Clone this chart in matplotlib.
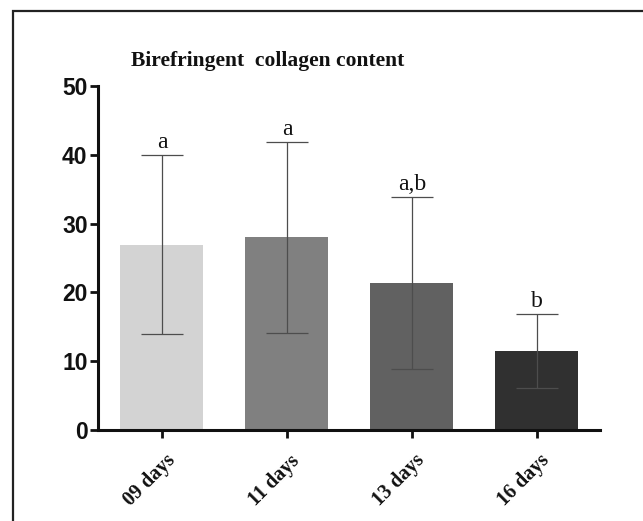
#!/usr/bin/env python3

# plotting
import matplotlib
matplotlib.use("Agg")
import matplotlib.pyplot as plt
import matplotlib.patches as patches

## DATA
groups = ["09 days", "11 days", "13 days", "16 days"]
means = [26.9, 28.0, 21.3, 11.5]
sd = [13.0, 13.9, 12.5, 5.4]
letters = ["a", "a", "a,b", "b"]
bar_colors = ["#d3d3d3", "#808080", "#616161", "#303030"]

## OUTPUT
OUTPUT = "out.png"
W, H = 643, 521

fig = plt.figure(figsize=(W / 100, H / 100), dpi=100)
ax = fig.add_axes([98 / W, 1 - 430 / H, (600 - 98) / W, (430 - 86) / H])

x = list(range(len(groups)))
ax.bar(x, means, width=0.664, color=bar_colors, zorder=1)
ax.errorbar(x, means, yerr=sd, fmt="none", ecolor="#4d4d4d", elinewidth=0.9,
            capsize=14.8, capthick=0.9, zorder=2)

for xi, m, s, lab in zip(x, means, sd, letters):
    ax.annotate(lab, (xi, m + s), xytext=(0, 1.5), textcoords="offset points",
                ha="center", va="bottom", fontsize=17, family="Liberation Serif",
                color="#111111")

ax.set_xlim(-0.512, 3.505)
ax.set_ylim(0, 50)
ax.set_yticks([0, 10, 20, 30, 40, 50])
ax.set_xticks(x)
ax.set_xticklabels([])
# rotated group labels, anchored at the end of the text like GraphPad does
for xi, g in zip(x, groups):
    ax.annotate(g, (xi, 0), xycoords=("data", "axes fraction"), xytext=(7.2, -20),
                textcoords="offset points", rotation=45, rotation_mode="anchor",
                ha="right", va="center", family="Liberation Serif", fontweight="bold",
                fontsize=14.5, color="#111111", annotation_clip=False)
for lbl in ax.get_yticklabels():
    lbl.set_family("Liberation Sans")
    lbl.set_fontweight("bold")
    lbl.set_fontsize(16.5)

for side in ["top", "right"]:
    ax.spines[side].set_visible(False)
for side in ["left", "bottom"]:
    ax.spines[side].set_linewidth(2.2)
    ax.spines[side].set_color("#111111")
ax.tick_params(axis="both", width=2.0, length=5.5, color="#111111", labelcolor="#111111")
ax.tick_params(axis="y", pad=2)

fig.text(268 / W, 1 - 61 / H, "Birefringent  collagen content", ha="center", va="center",
         family="Liberation Serif", fontweight="bold", fontsize=15.5, color="#111111")

# outer frame, runs off the right and bottom edges
frame = patches.Rectangle((13 / W, -0.1), 1.2, 1.1 - 11 / H, transform=fig.transFigure,
                          fill=False, edgecolor="#222222", linewidth=1.6, clip_on=False)
fig.patches.append(frame)

fig.savefig(OUTPUT, dpi=100)
